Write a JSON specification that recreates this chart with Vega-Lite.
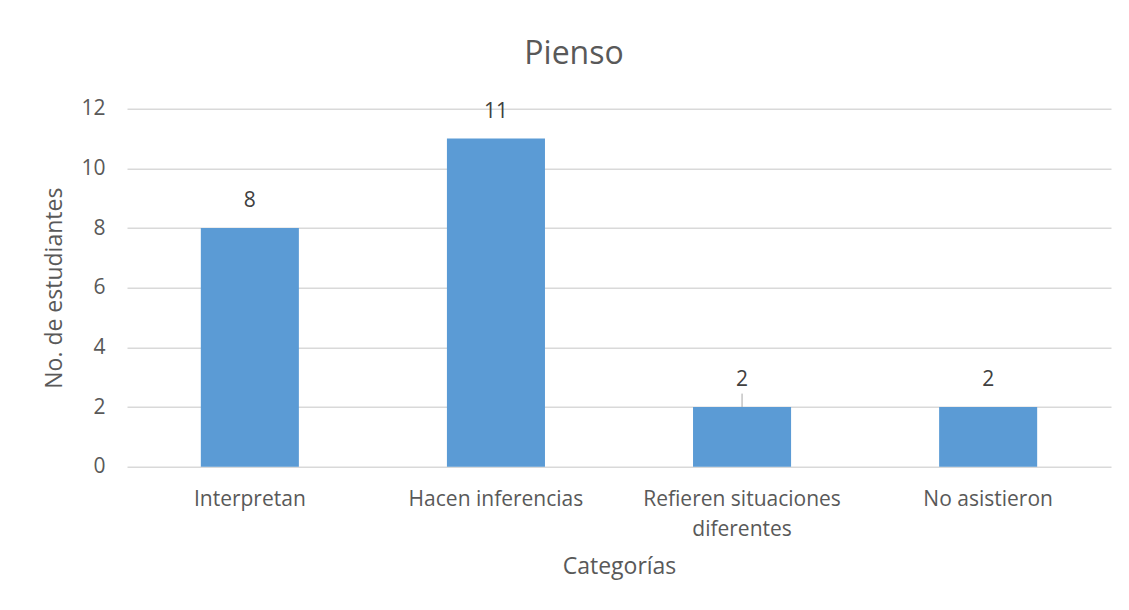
{
  "$schema": "https://vega.github.io/schema/vega-lite/v6.json",
  "autosize": {"type": "none"},
  "padding": {"left": 127, "top": 108.7, "right": 18, "bottom": 143.3},
  "width": 984,
  "height": 358,
  "background": "white",
  "title": {
    "text": "Pienso",
    "anchor": "middle",
    "frame": "group",
    "dx": -45,
    "fontSize": 32,
    "font": "Open Sans",
    "fontWeight": "normal",
    "color": "#595959",
    "baseline": "alphabetic",
    "offset": 2
  },
  "data": {
    "values": [
      {"categoria": "Interpretan", "estudiantes": 8},
      {"categoria": "Hacen inferencias", "estudiantes": 11},
      {"categoria": "Refieren situaciones diferentes", "estudiantes": 2},
      {"categoria": "No asistieron", "estudiantes": 2}
    ]
  },
  "encoding": {
    "x": {
      "field": "categoria",
      "type": "nominal",
      "sort": null,
      "scale": {"paddingInner": 0.6016, "paddingOuter": 0.3},
      "axis": {
        "title": "Categorías",
        "labelAngle": 0,
        "ticks": false,
        "domain": false,
        "labelPadding": 22,
        "labelLimit": 0,
        "labelLineHeight": 30,
        "titlePadding": 16,
        "labelExpr": "datum.value == 'Refieren situaciones diferentes' ? ['Refieren situaciones', 'diferentes'] : datum.value"
      }
    },
    "y": {
      "field": "estudiantes",
      "type": "quantitative",
      "scale": {"domain": [0, 12], "nice": false},
      "axis": {
        "title": "No. de estudiantes",
        "values": [0, 2, 4, 6, 8, 10, 12],
        "grid": true,
        "domain": false,
        "ticks": false,
        "labelPadding": 22,
        "titlePadding": 14
      }
    }
  },
  "layer": [
    {"mark": {"type": "bar", "color": "#5b9bd5"}},
    {
      "mark": {"type": "text", "baseline": "alphabetic", "dy": -21, "fontSize": 21, "font": "Open Sans", "color": "#404040"},
      "encoding": {"text": {"field": "estudiantes", "type": "quantitative"}}
    },
    {
      "transform": [{"filter": "datum.categoria == 'Refieren situaciones diferentes'"}],
      "mark": {"type": "rule", "color": "#a6a6a6", "strokeWidth": 1},
      "encoding": {"y2": {"datum": 2.45}}
    }
  ],
  "config": {
    "view": {"stroke": null},
    "axis": {
      "labelFont": "Open Sans",
      "titleFont": "Open Sans",
      "labelFontSize": 21,
      "titleFontSize": 23,
      "labelColor": "#595959",
      "titleColor": "#595959",
      "titleFontWeight": "normal",
      "gridColor": "#d9d9d9",
      "gridWidth": 1.5
    }
  }
}
